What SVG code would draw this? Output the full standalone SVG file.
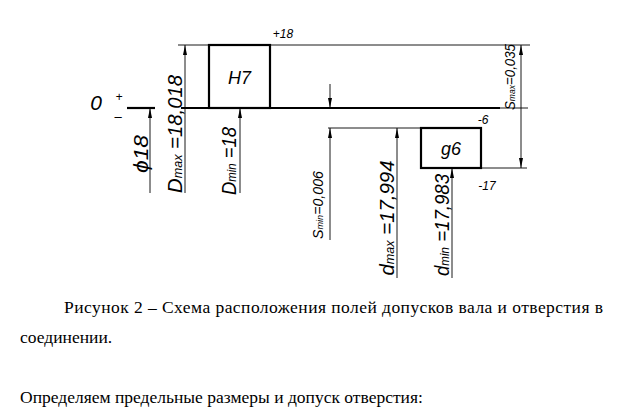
<svg xmlns="http://www.w3.org/2000/svg" width="622" height="410" viewBox="0 0 622 410">
<style>
.t{stroke:#000;stroke-width:2.2;fill:none}
.n{stroke:#000;stroke-width:0.9;fill:none}
.d{font-family:"Liberation Sans",Arial,sans-serif;font-style:italic;fill:#000}
.c{font-family:"Liberation Serif","Times New Roman",serif;font-size:17.5px;fill:#000}
</style>
<defs>
<marker id="a" viewBox="0 0 10 10" refX="10" refY="5" markerWidth="10" markerHeight="10" markerUnits="userSpaceOnUse" orient="auto-start-reverse"><path d="M0,3 L10,5 L0,7 Z" fill="#000"/></marker>
</defs>
<rect width="622" height="410" fill="#fff"/>
<g id="connectors">
<line class="t" x1="127" y1="108" x2="155" y2="108"/>
<line class="t" x1="181" y1="108" x2="500" y2="108"/>
<line class="n" x1="500" y1="108" x2="528" y2="108"/>
<line class="n" x1="178" y1="45" x2="530" y2="45"/>
<line class="n" x1="328" y1="128" x2="421" y2="128"/>
<line class="n" x1="481" y1="168" x2="527" y2="168"/>
<line class="n" x1="150" y1="193" x2="150" y2="108" marker-end="url(#a)"/>
<line class="n" x1="185" y1="193" x2="185" y2="45" marker-end="url(#a)"/>
<line class="n" x1="240" y1="193" x2="240" y2="108" marker-end="url(#a)"/>
<line class="n" x1="330" y1="84" x2="330" y2="108" marker-end="url(#a)"/>
<line class="n" x1="330" y1="240" x2="330" y2="128" marker-end="url(#a)"/>
<line class="n" x1="397" y1="278" x2="397" y2="128" marker-end="url(#a)"/>
<line class="n" x1="452" y1="278" x2="452" y2="168" marker-end="url(#a)"/>
<line class="n" x1="521" y1="45" x2="521" y2="168" marker-start="url(#a)" marker-end="url(#a)"/>
</g>
<g id="H7"><rect class="t" x="209" y="45" width="61" height="63"/><text class="d" x="239.5" y="84" font-size="18" text-anchor="middle">H7</text></g>
<g id="g6"><rect class="t" x="421" y="128" width="60" height="40"/><text class="d" x="451" y="155" font-size="18" text-anchor="middle">g6</text></g>
<g id="labels">
<text class="d" x="283" y="38" font-size="12" text-anchor="middle">+18</text>
<text class="d" x="483" y="124" font-size="12" text-anchor="middle">-6</text>
<text class="d" x="487" y="190" font-size="12" text-anchor="middle">-17</text>
<text class="d" x="96" y="110" font-size="21" text-anchor="middle">0</text>
<text class="d" x="119" y="101" font-size="12" text-anchor="middle">+</text>
<text class="d" x="118" y="121" font-size="13" text-anchor="middle">–</text>
<text class="d" font-size="21" text-anchor="middle" transform="translate(148,154) rotate(-90)" textLength="38" lengthAdjust="spacingAndGlyphs">ϕ18</text>
<text class="d" font-size="21" text-anchor="middle" transform="translate(182,134) rotate(-90)" textLength="118" lengthAdjust="spacingAndGlyphs">D<tspan font-size="13">max</tspan> =18,018</text>
<text class="d" font-size="21" text-anchor="middle" transform="translate(236,161) rotate(-90)" textLength="68" lengthAdjust="spacingAndGlyphs">D<tspan font-size="13">min</tspan> =18</text>
<text class="d" font-size="14" text-anchor="middle" transform="translate(323,205) rotate(-90)" textLength="68" lengthAdjust="spacingAndGlyphs">S<tspan font-size="9">min</tspan>=0,006</text>
<text class="d" font-size="21" text-anchor="middle" transform="translate(394,218) rotate(-90)" textLength="115" lengthAdjust="spacingAndGlyphs">d<tspan font-size="13">max</tspan> =17,994</text>
<text class="d" font-size="21" text-anchor="middle" transform="translate(449,225) rotate(-90)" textLength="102" lengthAdjust="spacingAndGlyphs">d<tspan font-size="13">min</tspan> =17,983</text>
<text class="d" font-size="14" text-anchor="middle" transform="translate(515,77) rotate(-90)" textLength="66" lengthAdjust="spacingAndGlyphs">S<tspan font-size="9">max</tspan>=0,035</text>
</g>
<g id="caption">
<text class="c" x="64" y="313" textLength="539" lengthAdjust="spacing">Рисунок 2 – Схема расположения полей допусков вала и отверстия в</text>
<text class="c" x="20" y="343">соединении.</text>
<text class="c" x="20" y="403">Определяем предельные размеры и допуск отверстия:</text>
</g>
</svg>
